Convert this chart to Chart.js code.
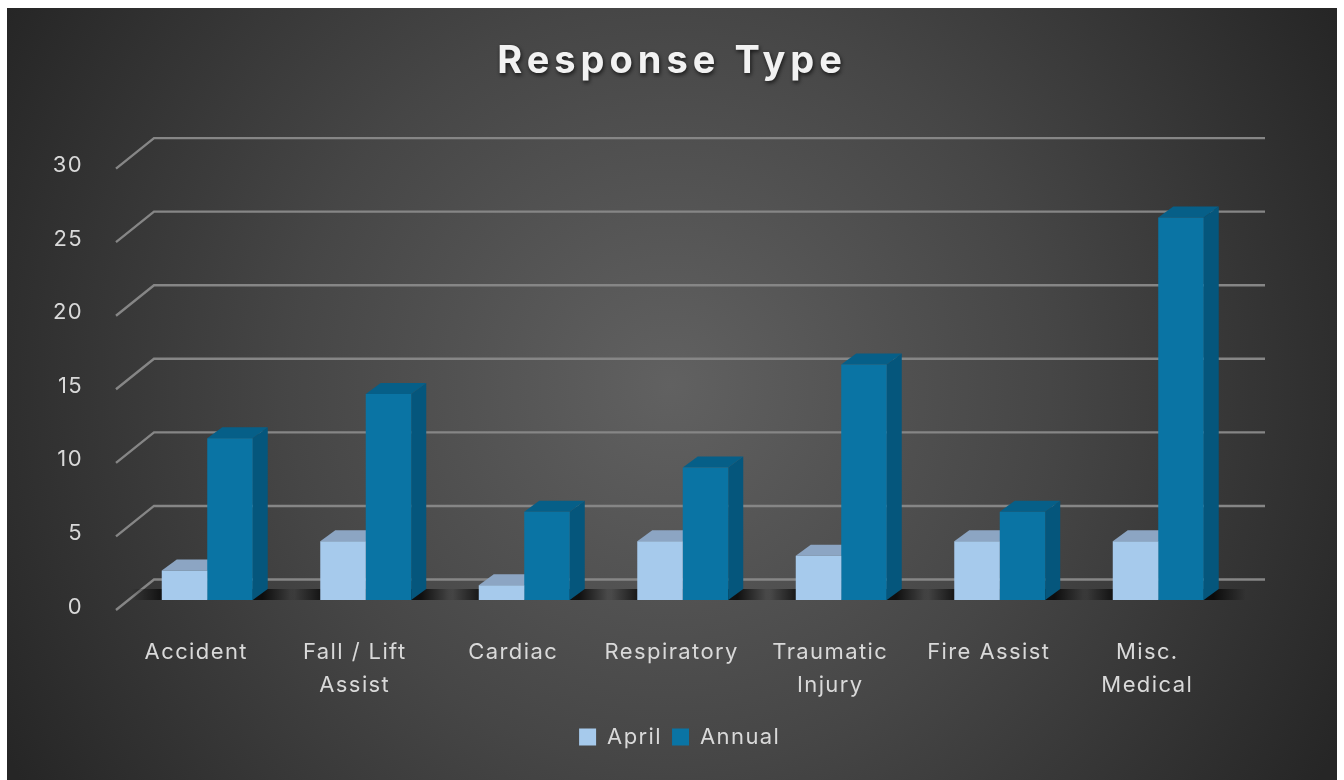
<!DOCTYPE html>
<html>
<head>
<meta charset="utf-8">
<title>Response Type</title>
<script src="https://cdn.jsdelivr.net/npm/chart.js@4"></script>
<style>
  html, body { margin: 0; padding: 0; background: #fff; }
  canvas { display: block; }
</style>
</head>
<body>
<canvas id="myChart" width="1344" height="780"></canvas>
<script>
const categories = ['Accident', ['Fall / Lift', 'Assist'], 'Cardiac', 'Respiratory', ['Traumatic', 'Injury'], 'Fire Assist', ['Misc.', 'Medical']];
const april = [2, 4, 1, 4, 3, 4, 4];
const annual = [11, 14, 6, 9, 16, 6, 26];
const tickValues = [0, 5, 10, 15, 20, 25, 30];

const textColor = '#d9d9d9';
const font = { family: 'Inter', size: 22 };

// depth of the fake 3d look
const barDepthX = 15, barDepthY = 11;

const sideColors = ['#7f9ab8', '#05567c'];
const topColors = ['#8ca5c3', '#065f88'];

const backdrop = {
  id: 'backdrop',
  beforeDraw(chart) {
    const ctx = chart.ctx;
    const g = ctx.createRadialGradient(670, 385, 0, 670, 385, 760);
    g.addColorStop(0, '#616161');
    g.addColorStop(0.5, '#464646');
    g.addColorStop(1, '#262626');
    ctx.fillStyle = g;
    ctx.fillRect(7, 8, 1330, 772);
    ctx.letterSpacing = '1.4px';

    if (!chart.titleBlock._wrapped) {
      const t = chart.titleBlock;
      const drawTitle = t.draw.bind(t);
      t.draw = function () {
        ctx.save();
        ctx.letterSpacing = '5px';
        ctx.shadowColor = 'rgba(0,0,0,0.7)';
        ctx.shadowBlur = 4;
        ctx.shadowOffsetX = 1;
        ctx.shadowOffsetY = 2;
        drawTitle();
        ctx.restore();
      };
      t._wrapped = true;
    }
  },
  beforeDatasetsDraw(chart) {
    const ctx = chart.ctx;
    const y = chart.scales.y;
    const area = chart.chartArea;

    // wall and side lines
    ctx.save();
    ctx.strokeStyle = '#868686';
    ctx.lineWidth = 2.4;
    tickValues.forEach(v => {
      const p = y.getPixelForValue(v);
      ctx.beginPath();
      ctx.moveTo(area.left - 12, p + 10);
      ctx.lineTo(area.left + 26, p - 20.5);
      ctx.lineTo(area.right + 27.5, p - 20.5);
      ctx.stroke();
    });

    // floor shadow
    const m0 = chart.getDatasetMeta(0).data;
    const m1 = chart.getDatasetMeta(1).data;
    m0.forEach((bar, i) => {
      const x0 = bar.x - bar.width / 2 - 30;
      const x1 = m1[i].x + m1[i].width / 2 + 42;
      const g = ctx.createLinearGradient(x0, 0, x1, 0);
      g.addColorStop(0, 'rgba(0,0,0,0)');
      g.addColorStop(0.2, 'rgba(0,0,0,0.75)');
      g.addColorStop(0.8, 'rgba(0,0,0,0.8)');
      g.addColorStop(1, 'rgba(0,0,0,0)');
      ctx.fillStyle = g;
      ctx.fillRect(x0, y.getPixelForValue(0) - 11, x1 - x0, 11);
    });

    // sides and tops of the bars
    [m0, m1].forEach((bars, d) => {
      bars.forEach(bar => {
        const l = bar.x - bar.width / 2, r = bar.x + bar.width / 2;
        const t = bar.y, b = bar.base;
        ctx.fillStyle = sideColors[d];
        ctx.beginPath();
        ctx.moveTo(r, t);
        ctx.lineTo(r + barDepthX, t - barDepthY);
        ctx.lineTo(r + barDepthX, b - barDepthY);
        ctx.lineTo(r, b);
        ctx.closePath();
        ctx.fill();
        ctx.fillStyle = topColors[d];
        ctx.beginPath();
        ctx.moveTo(l, t);
        ctx.lineTo(l + barDepthX, t - barDepthY);
        ctx.lineTo(r + barDepthX, t - barDepthY);
        ctx.lineTo(r, t);
        ctx.closePath();
        ctx.fill();
      });
    });
    ctx.restore();
  }
};

new Chart(document.getElementById('myChart'), {
  type: 'bar',
  data: {
    labels: categories,
    datasets: [
      { label: 'April', data: april, backgroundColor: '#a6caec' },
      { label: 'Annual', data: annual, backgroundColor: '#0a74a4' }
    ]
  },
  options: {
    responsive: false,
    animation: false,
    devicePixelRatio: 1,
    layout: { padding: { left: 0, right: 0, top: 0, bottom: 22 } },
    datasets: { bar: { categoryPercentage: 0.574, barPercentage: 1 } },
    scales: {
      x: {
        grid: { display: false },
        border: { display: false },
        afterFit(s) { s.height = 116; },
        ticks: { color: textColor, font: { ...font, lineHeight: 1.5 }, padding: 28, labelOffset: -11, maxRotation: 0, autoSkip: false }
      },
      y: {
        min: 0,
        max: 30,
        grid: { display: false },
        border: { display: false },
        afterFit(s) { s.width = 128; },
        afterBuildTicks(s) { s.ticks = tickValues.map(v => ({ value: v })); },
        ticks: { color: textColor, font, padding: 37, labelOffset: 7 }
      },
      spacer: {
        position: 'right',
        min: 0,
        max: 30,
        grid: { display: false },
        border: { display: false },
        ticks: { display: false },
        afterFit(s) { s.width = 106.5; }
      }
    },
    plugins: {
      title: {
        display: true,
        text: 'Response Type',
        color: '#f2f2f2',
        font: { family: 'Inter', size: 38, weight: 'bold' },
        padding: { top: 39, bottom: 74 }
      },
      legend: {
        position: 'bottom',
        labels: { color: textColor, font, boxWidth: 17, boxHeight: 17, padding: 10 }
      },
      tooltip: { enabled: false }
    }
  },
  plugins: [backdrop]
});
</script>
</body>
</html>
